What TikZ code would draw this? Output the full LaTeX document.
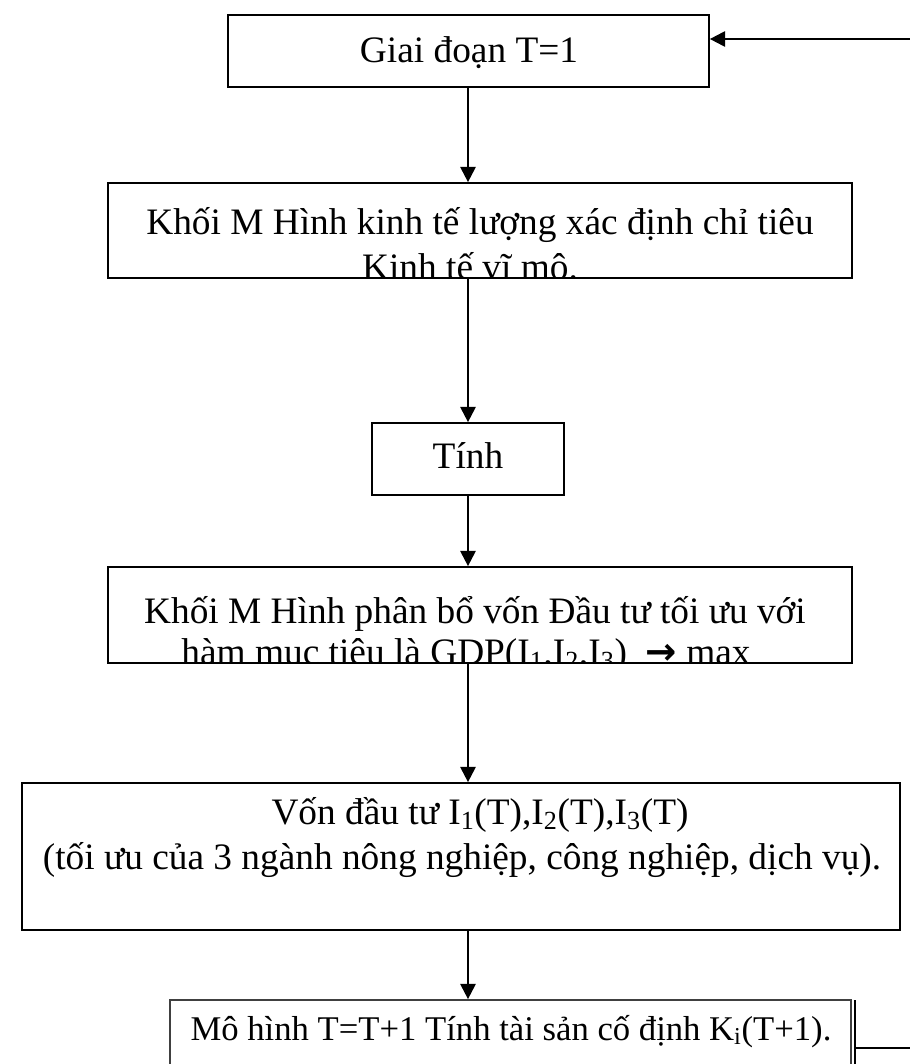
\documentclass[tikz,border=0pt]{standalone}
\usepackage{fontspec}
\setmainfont{Liberation Serif}
\newfontfamily\arrfont{DejaVu Sans}
\usetikzlibrary{arrows.meta,fit}
\begin{document}
\begin{tikzpicture}[x=0.75pt,y=-0.75pt,
  box/.style={draw, line width=1.3pt, inner sep=0pt},
  txt/.style={anchor=base, inner sep=0pt, font=\fontsize{28}{33.75}\selectfont},
  smalltxt/.style={anchor=base, inner sep=0pt, font=\fontsize{26}{31}\selectfont},
  arr/.style={line width=1.6pt, -{Triangle[length=11.5pt,width=11.5pt]}},
  plain/.style={line width=1.6pt}]
\useasboundingbox (0,0) rectangle (910,1064);
% boxes
\node[box, fit={(228,15) (709,87)}] (b1) {};
\node[box, fit={(108,183) (852,278)}] (b2) {};
\node[box, fit={(372,423) (564,495)}] (b3) {};
\node[box, fit={(108,567) (852,663)}] (b4) {};
\node[box, fit={(22,783) (900,930)}] (b5) {};
\node[box, draw=black!75, fit={(170,1000) (851,1100)}] (b6) {};
% texts
\node[txt] (t1) at (469,62) {Giai đoạn T=1};
\begin{scope}
\clip (b2.south west) rectangle (b2.north east);
\node[txt] (t2a) at (480,234) {Khối M Hình kinh tế lượng xác định chỉ tiêu};
\node[txt] (t2b) at (470,279) {Kinh tế vĩ mô.};
\end{scope}
\node[txt] (t3) at (468,468) {Tính};
\begin{scope}
\clip (b4.south west) rectangle (b4.north east);
\node[txt] (t4a) at (475,623) {Khối M Hình phân bổ vốn Đầu tư tối ưu với};
\node[txt] (t4b) at (466,664) {hàm mục tiêu là GDP(I\textsubscript{1},I\textsubscript{2},I\textsubscript{3})\ \ {\arrfont\bfseries →} max};
\end{scope}
\node[txt] (t5a) at (480,824) {Vốn đầu tư I\textsubscript{1}(T),I\textsubscript{2}(T),I\textsubscript{3}(T)};
\node[txt] (t5b) at (462,869) {(tối ưu của 3 ngành nông nghiệp, công nghiệp, dịch vụ).};
\node[smalltxt] (t6) at (511,1040) {Mô hình T=T+1 Tính tài sản cố định K\textsubscript{i}(T+1).};
% axis
\coordinate (ax) at (468,0);
\draw[arr] (ax |- b1.south) -- (ax |- b2.north);
\draw[arr] (ax |- b2.south) -- (ax |- b3.north);
\draw[arr] (ax |- b3.south) -- (ax |- b4.north);
\draw[arr] (ax |- b4.south) -- (ax |- b5.north);
\draw[arr] (ax |- b5.south) -- (ax |- b6.north);
% feedback
\coordinate (fbtop) at (910,39);
\draw[arr] (fbtop) -- (fbtop -| b1.east);
\coordinate (v1) at (855,1000);
\coordinate (v2) at (855,1070);
\coordinate (fbbot) at (910,1048);
\draw[plain] (v1) -- (v2);
\draw[plain] (fbbot) -- (fbbot -| v1);
\end{tikzpicture}
\end{document}
